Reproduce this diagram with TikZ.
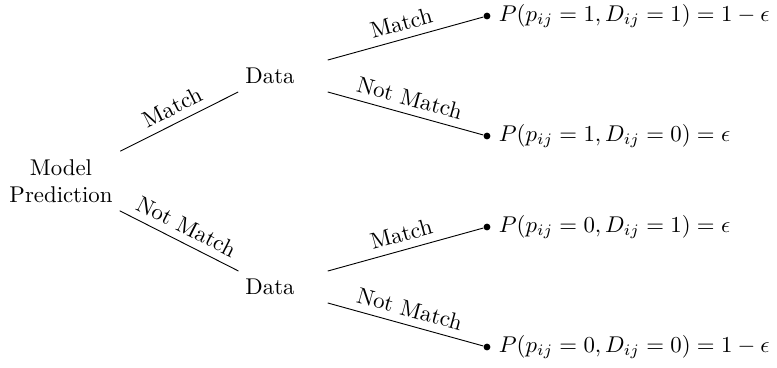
\documentclass[tikz,border=0pt]{standalone}
\usepackage{amsmath}
\usepackage{amssymb}
\usepackage{tikz}

\begin{document}
\begin{tikzpicture}[x=0.01541cm,y=-0.01541cm]
\tikzset{bag/.style={text width=5em,align=center},
  leaf/.style={circle,fill=black,minimum size=3pt,inner sep=0pt},
  lbl/.style={above,sloped}}
\useasboundingbox (0,0) rectangle (777,367);
\node [bag] (pred) at (61,181) {Model\\Prediction};
\node [bag] (dataA) at (270,76) {Data};
\node [bag] (dataB) at (270,287) {Data};
\node [leaf,label=right:{$P(p_{ij}=1, D_{ij}=1)=1-\epsilon$}] (oneone) at (487,16) {};
\node [leaf,label=right:{$P(p_{ij}=1, D_{ij}=0)=\epsilon$}] (onezero) at (487,136) {};
\node [leaf,label=right:{$P(p_{ij}=0, D_{ij}=1)=\epsilon$}] (zeroone) at (487,227) {};
\node [leaf,label=right:{$P(p_{ij}=0, D_{ij}=0)=1-\epsilon$}] (zerozero) at (487,347) {};
\draw (pred) -- node [lbl] {Match} (dataA);
\draw (pred) -- node [lbl] {Not Match} (dataB);
\draw (dataA) -- node [lbl] {Match} (oneone);
\draw (dataA) -- node [lbl] {Not Match} (onezero);
\draw (dataB) -- node [lbl] {Match} (zeroone);
\draw (dataB) -- node [lbl] {Not Match} (zerozero);
\end{tikzpicture}
\end{document}
